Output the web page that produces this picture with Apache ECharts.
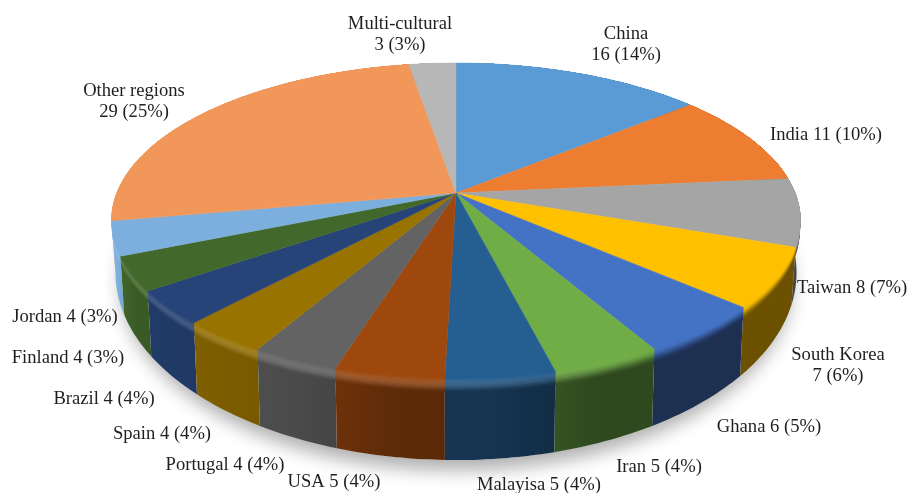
<!DOCTYPE html>
<html>
<head>
<meta charset="utf-8">
<style>html,body{margin:0;padding:0;background:#fff}#chart{width:909px;height:493px}</style>
<script src="https://cdn.jsdelivr.net/npm/echarts@6/dist/echarts.min.js"></script>
</head>
<body>
<div id="chart"></div>
<script>
// ---- data ----
const regions = ['China','India','Taiwan','South Korea','Ghana','Iran','Malayisa','USA','Portugal','Spain','Brazil','Finland','Jordan','Other regions','Multi-cultural'];
const counts  = [16,11,8,7,6,5,5,5,4,4,4,4,4,29,3];
const percents= [14,10,7,6,5,4,4,4,4,4,4,3,3,25,3];

// ---- styling and layout, separate from the data ----
const colors = ['#5B9BD5','#ED7D31','#A5A5A5','#FFC000','#4472C4','#70AD47','#255E91','#9E480E','#636363','#997300','#264478','#43682B','#7CAFDD','#F1975A','#B7B7B7'];
const wrapped = [true,false,false,true,false,false,false,false,false,false,false,false,false,true,true];
const labelCenters = [[626,45],[826,135],[852,288],[838,366],[769,427],[659,467],[539,485],[334,482],[225,465],[162,434],[104,399],[68,358],[65,317],[134,102],[400,35]];
const FONT = '18.6px "Liberation Serif","Times New Roman",serif';

// projected disc
const G = {cx:456, apexY:193, a:339.2, b:152.7, k:0.175,
           ecy:220, bcy:272, sx:341/345, sy:188/158, bevel:0.18};
const total = counts.reduce((s,v)=>s+v,0);
const lightX = [108,115,135,170,230,300,390,500,600,800];
const lightF = [1.14,1.02,.88,.85,.80,.75,.60,.55,.42,.42];

function lerpTable(x,xs,ys){
  if(x<=xs[0])return ys[0];
  for(let i=1;i<xs.length;i++){ if(x<=xs[i]){const t=(x-xs[i-1])/(xs[i]-xs[i-1]);return ys[i-1]+t*(ys[i]-ys[i-1]);} }
  return ys[ys.length-1];
}
function rgb(h){return [1,3,5].map(i=>parseInt(h.substr(i,2),16));}
function css(c){return 'rgb('+c.map(v=>Math.max(0,Math.min(255,Math.round(v)))).join(',')+')';}
function topPt(th){
  const u=Math.sin(th), v=-Math.cos(th), d=1-G.k*v;
  return [G.cx+G.a*u/d, G.apexY+G.b*v/d];
}
function botPt(p){ return [G.cx+(p[0]-G.cx)*G.sx, G.bcy+(p[1]-G.ecy)*G.sy]; }
function atDepth(p,f){ const q=botPt(p); return [p[0]+(q[0]-p[0])*f, p[1]+(q[1]-p[1])*f]; }
function arc(a0,a1){
  const n=Math.max(4,Math.ceil((a1-a0)/(Math.PI/180))), pts=[];
  for(let i=0;i<=n;i++)pts.push(topPt(a0+(a1-a0)*i/n));
  return pts;
}
function bandFill(pts,colorAt){
  const xs=pts.map(p=>p[0]), x0=Math.min(...xs), x1=Math.max(...xs), stops=[];
  for(let i=0;i<=8;i++){const t=i/8; stops.push({offset:t,color:colorAt(x0+(x1-x0)*t)});}
  return {type:'linear',x:0,y:0,x2:1,y2:0,colorStops:stops};
}
function renderSlice(params,api){
  const i=params.dataIndex, val=api.value(0);
  let before=0; for(let j=0;j<i;j++)before+=counts[j];
  const a0=before/total*2*Math.PI, a1=(before+val)/total*2*Math.PI;
  const base=rgb(colors[i]), edge=arc(a0,a1), kids=[];

  if(i===0){ // soft shadow on the ground under the whole disc
    const all=arc(0,2*Math.PI).map(botPt).map(p=>[G.cx+(p[0]-G.cx)*0.985,p[1]]);
    kids.push({type:'polygon',z2:-5,shape:{points:all},
      style:{fill:'#fff',shadowBlur:18,shadowColor:'rgba(0,0,0,0.32)',shadowOffsetY:10}});
  }
  const shade=x=>{const f=lerpTable(x,lightX,lightF);return base.map(c=>c*f);};
  // side wall
  const wall=edge.concat(edge.slice().reverse().map(botPt));
  const vMid=-Math.cos((a0+a1)/2);
  kids.push({type:'polygon',z2:10+vMid,shape:{points:wall},
    style:{fill:bandFill(wall,x=>css(shade(x)))}});
  // rounded top lip of the wall
  const LAYERS=8;
  for(let l=LAYERS;l>=1;l--){
    const t=(l-0.5)/LAYERS, f=G.bevel*l/LAYERS;
    const lower=edge.slice().reverse().map(p=>atDepth(p,f));
    const pts=edge.concat(lower);
    const mixT=t*t*(3-2*t), bump=Math.sin(Math.PI*Math.min(1,t*1.15));
    kids.push({type:'polygon',z2:20+(LAYERS-l),shape:{points:pts},
      style:{fill:bandFill(pts,x=>{
        const d=shade(x), hl=lerpTable(x,[110,500,660],[.14,.12,0])*bump;
        return css(base.map((c,n)=>{const m=c+(d[n]-c)*mixT;return m+(255-m)*hl;}));
      })}});
  }
  // top face
  kids.push({type:'polygon',z2:40,shape:{points:[[G.cx,G.apexY]].concat(edge)},
    style:{fill:colors[i],stroke:colors[i],lineWidth:0.5}});
  // label
  const txt=regions[i]+(wrapped[i]?'\n':' ')+counts[i]+' ('+percents[i]+'%)';
  kids.push({type:'text',z2:60,x:labelCenters[i][0],y:labelCenters[i][1],
    style:{text:txt,font:FONT,fill:'#1f1f1f',align:'center',verticalAlign:'middle',lineHeight:21}});
  return {type:'group',children:kids};
}
const chart=echarts.init(document.getElementById('chart'),null,{renderer:'canvas'});
chart.setOption({
  animation:false,
  backgroundColor:'#fff',
  series:[{type:'custom',coordinateSystem:'none',silent:true,clip:false,
    data:counts.map((c,i)=>({name:regions[i],value:[c]})),
    renderItem:renderSlice}]
});
</script>
</body>
</html>
